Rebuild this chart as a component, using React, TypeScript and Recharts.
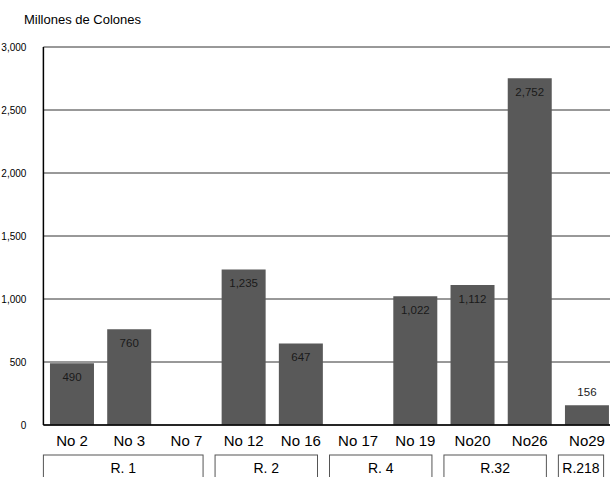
import React from 'react';
import { BarChart, Bar, XAxis, YAxis, CartesianGrid, LabelList } from 'recharts';

const plantas = ['No 2', 'No 3', 'No 7', 'No 12', 'No 16', 'No 17', 'No 19', 'No20', 'No26', 'No29'];
const rutas = ['R. 1', 'R. 1', 'R. 1', 'R. 2', 'R. 2', 'R. 4', 'R. 4', 'R.32', 'R.32', 'R.218'];
const montos: (number | null)[] = [490, 760, null, 1235, 647, null, 1022, 1112, 2752, 156];
const yTicks = [0, 500, 1000, 1500, 2000, 2500, 3000];

const data = plantas.map((p, i) => ({ planta: p, ruta: rutas[i], monto: montos[i] }));

const FONT = '"Liberation Sans", Arial, sans-serif';
const CHART_W = 630;
const CHART_H = 477;
const Y_W = 43.4;
const M_RIGHT = 14.4;
const BAND = (CHART_W - Y_W - M_RIGHT) / plantas.length;

const fmt = (v: number) => v.toLocaleString('en-US');

// value label inside the top of the bar, or just above it when the bar is too short
const ValueLabel = (props: any) => {
  const { x, y, width, height, value } = props;
  if (value == null) return null;
  const inside = height > 25;
  return (
    <text
      x={x + width / 2}
      y={inside ? y + 14 : y - 13}
      textAnchor="middle"
      dominantBaseline="central"
      fontSize={11.5}
      fontFamily={FONT}
      fill="#1a1a1a"
    >
      {fmt(value)}
    </text>
  );
};

// box around each route group, drawn at the first plant of the group
const RutaTick = (props: any) => {
  const { x, y, payload, index } = props;
  const name = rutas[index];
  if (index > 0 && rutas[index - 1] === name) return null;
  let n = 0;
  while (rutas[index + n] === name) n++;
  const left = x - BAND / 2;
  const right = x - BAND / 2 + n * BAND - 12;
  return (
    <g>
      <rect x={left} y={y - 8} width={right - left} height={30} fill="none" stroke="#555" strokeWidth={1} />
      <text x={(left + right) / 2} y={y + 5} textAnchor="middle" dominantBaseline="central" fontSize={14} fontFamily={FONT} fill="#000">
        {payload.value}
      </text>
    </g>
  );
};

export default function App() {
  return (
    <div style={{ position: 'fixed', left: 0, top: 0, width: 610, height: 477, overflow: 'hidden', background: '#fff' }}>
      <div style={{ position: 'absolute', left: 24, top: 12, fontFamily: FONT, fontSize: 13, color: '#000' }}>
        Millones de Colones
      </div>
      <BarChart
        width={CHART_W}
        height={CHART_H}
        data={data}
        margin={{ top: 47, right: M_RIGHT, left: 0, bottom: 0 }}
        barCategoryGap="11.5%"
      >
        <CartesianGrid horizontal vertical={false} stroke="#333" strokeWidth={1} />
        <XAxis
          dataKey="planta"
          xAxisId={0}
          height={30}
          interval={0}
          tickLine={false}
          axisLine={{ stroke: '#000', strokeWidth: 1.5 }}
          tick={{ fontSize: 15, fontFamily: FONT, fill: '#000' }}
          tickMargin={4}
        />
        <XAxis dataKey="ruta" xAxisId={1} height={22} interval={0} tickLine={false} axisLine={false} tick={<RutaTick />} />
        <YAxis
          width={Y_W}
          domain={[0, 3000]}
          ticks={yTicks}
          tickFormatter={fmt}
          tickLine={false}
          axisLine={{ stroke: '#000', strokeWidth: 1.5 }}
          tick={{ fontSize: 10, fontFamily: FONT, fill: '#000' }}
          tickMargin={11}
        />
        <Bar dataKey="monto" xAxisId={0} fill="#595959" isAnimationActive={false}>
          <LabelList dataKey="monto" content={<ValueLabel />} />
        </Bar>
      </BarChart>
    </div>
  );
}
